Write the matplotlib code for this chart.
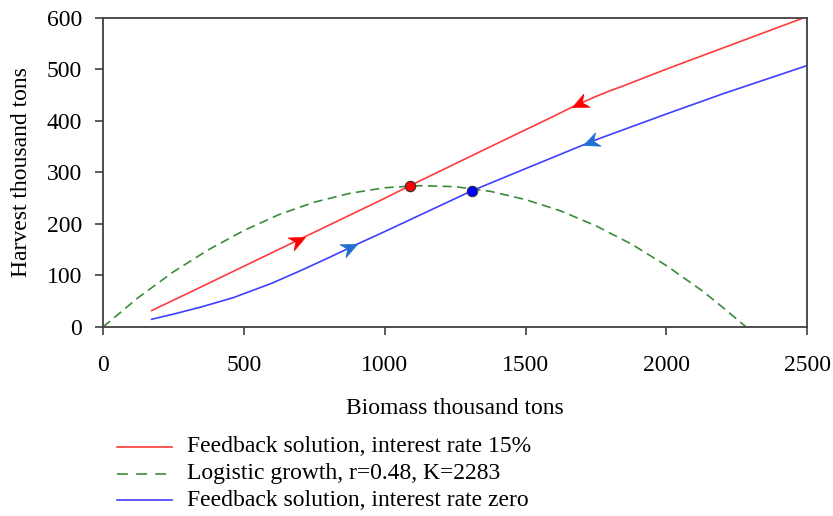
import numpy as np
import matplotlib
matplotlib.use("Agg")
import matplotlib.pyplot as plt
from matplotlib.path import Path
from matplotlib.markers import MarkerStyle
from matplotlib.transforms import Affine2D
from matplotlib.lines import Line2D

plt.rcParams["font.family"] = ["Liberation Serif", "DejaVu Serif"]

# Feedback harvest rule, interest rate 15 %
red_biomass = [173, 300, 463, 717, 983, 1090, 1350, 1575, 1664, 1700, 1750,
               1800, 1850, 2000, 2250, 2490]
red_harvest = [32, 65, 108, 175, 245, 274, 343, 402, 426, 435, 447,
               458, 468, 500, 551, 600]

# Feedback harvest rule, interest rate zero
blue_biomass = [173, 250, 350, 463, 600, 700, 800, 900, 1000, 1309, 1500, 1705,
                1760, 1820, 1900, 2000, 2200, 2500]
blue_harvest = [15, 25, 39, 57, 85, 109, 134, 160, 185, 264, 307, 353,
                365, 377, 393, 413, 452, 507]

# Logistic growth curve, r = 0.48, K = 2283
logi_biomass = [0, 125, 250, 375, 500, 625, 750, 875, 1000, 1125, 1250, 1375,
                1500, 1625, 1750, 1875, 2000, 2125, 2200, 2283]
logi_harvest = [0, 57, 107, 150, 187, 218, 242, 259, 270, 274, 272, 263,
                247, 225, 196, 161, 119, 71, 38, 0]

# Steady states (intersection with the growth curve)
eq_red = (1090, 274)
eq_blue = (1309, 264)

# Direction arrows: (biomass, +1 = towards higher biomass / -1 = lower)
red_arrows = [(717, 1), (1664, -1)]
blue_arrows = [(900, 1), (1705, -1)]

xticks = [0, 500, 1000, 1500, 2000, 2500]
yticks = [0, 100, 200, 300, 400, 500, 600]

W, H = 833, 516
FS = 17
fig = plt.figure(figsize=(W / 100, H / 100), dpi=100)
ax = fig.add_axes([103 / W, 1 - 327 / H, (807.3 - 103) / W, (327 - 17.5) / H])

RED = "#ff3b3b"
BLUE = "#3f3fff"
GREEN = "#3a8c3a"
RED_ARROW = "#ff0000"
BLUE_ARROW = "#1f70d0"

l_red, = ax.plot(red_biomass, red_harvest, color=RED, lw=1.2)
l_green, = ax.plot(logi_biomass, logi_harvest, color=GREEN, lw=1.2,
                   dashes=(5.5, 3.2))
l_blue, = ax.plot(blue_biomass, blue_harvest, color=BLUE, lw=1.2)

ax.plot(*eq_red, "o", ms=7.5, mfc="#ff0000", mec="#333333", mew=0.8, zorder=5)
ax.plot(*eq_blue, "o", ms=7.5, mfc="#0000ff", mec="#333333", mew=0.8, zorder=5)

ax.set_xlim(0, 2500)
ax.set_ylim(0, 600)

# notched arrowhead with its tip at the origin, pointing along +x
head = Path([(0, 0), (-1, 0.45), (-0.68, 0), (-1, -0.45), (0, 0)],
            [Path.MOVETO, Path.LINETO, Path.LINETO, Path.LINETO, Path.CLOSEPOLY])


def draw_arrows(xs, ys, spots, color):
    for bx, d in spots:
        by = np.interp(bx, xs, ys)
        p0 = ax.transData.transform((bx - 60, np.interp(bx - 60, xs, ys)))
        p1 = ax.transData.transform((bx + 60, np.interp(bx + 60, xs, ys)))
        ang = np.degrees(np.arctan2(p1[1] - p0[1], p1[0] - p0[0]))
        if d < 0:
            ang += 180
        m = MarkerStyle(head, transform=Affine2D().rotate_deg(ang))
        ax.plot(bx, by, marker=m, ms=23, color=color, mec=color, mew=0.5,
                zorder=6)


draw_arrows(red_biomass, red_harvest, red_arrows, RED_ARROW)
draw_arrows(blue_biomass, blue_harvest, blue_arrows, BLUE_ARROW)

ax.set_xticks(xticks)
ax.set_yticks(yticks)
ax.tick_params(direction="out", length=6, width=1.2, color="#404040",
               labelsize=FS, pad=9)
ax.tick_params(axis="x", pad=14)
for s in ax.spines.values():
    s.set_color("#404040")
    s.set_linewidth(1.3)

ax.set_xlabel("Biomass thousand tons", fontsize=FS, labelpad=16)
ax.set_ylabel("Harvest thousand tons", fontsize=FS, labelpad=11)

# legend below the axes
rows = [
    (l_red, "Feedback solution, interest rate 15%", 447),
    (l_green, "Logistic growth, r=0.48, K=2283", 474),
    (l_blue, "Feedback solution, interest rate zero", 500),
]
for line, text, ypx in rows:
    yf = 1 - ypx / H
    seg = Line2D([117 / W, 172 / W], [yf, yf], transform=fig.transFigure,
                 color=line.get_color(), lw=1.2)
    if line is l_green:
        seg.set_dashes((6.5, 5))
    fig.add_artist(seg)
    fig.text(187 / W, yf, text, fontsize=FS, va="center", ha="left")

fig.savefig("out.png", dpi=100)
